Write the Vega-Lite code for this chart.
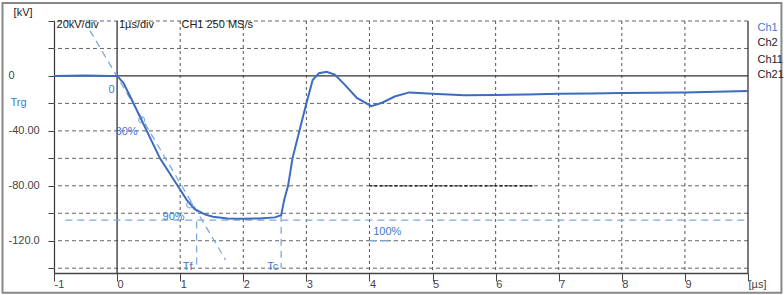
{
  "$schema": "https://vega.github.io/schema/vega-lite/v6.json",
  "width": 694,
  "height": 252,
  "autosize": {"type": "none"},
  "padding": {"left": 54, "top": 21, "right": 36, "bottom": 22},
  "background": "white",
  "config": {
    "view": {"stroke": null},
    "text": {"font": "Liberation Sans"},
    "axis": {"labelFont": "Liberation Sans"}
  },
  "datasets": {
    "wave": [
      {"x": -1, "y": 0}, {"x": -0.5, "y": 0.3}, {"x": -0.1, "y": 0}, {"x": 0, "y": 0},
      {"x": 0.1, "y": -5}, {"x": 0.25, "y": -19}, {"x": 0.47, "y": -40}, {"x": 0.68, "y": -60},
      {"x": 0.96, "y": -80}, {"x": 1.1, "y": -90}, {"x": 1.23, "y": -97}, {"x": 1.4, "y": -101},
      {"x": 1.52, "y": -102.5}, {"x": 1.75, "y": -103.8}, {"x": 2.0, "y": -104}, {"x": 2.25, "y": -103.8},
      {"x": 2.5, "y": -103}, {"x": 2.6, "y": -101.5}, {"x": 2.65, "y": -90}, {"x": 2.71, "y": -80},
      {"x": 2.78, "y": -60}, {"x": 2.89, "y": -40}, {"x": 3.0, "y": -20}, {"x": 3.1, "y": -3},
      {"x": 3.2, "y": 2}, {"x": 3.32, "y": 3}, {"x": 3.45, "y": 1}, {"x": 3.6, "y": -6},
      {"x": 3.8, "y": -16}, {"x": 4.03, "y": -22}, {"x": 4.2, "y": -19.5}, {"x": 4.4, "y": -15},
      {"x": 4.63, "y": -12}, {"x": 5.0, "y": -13}, {"x": 5.5, "y": -14}, {"x": 6.0, "y": -13.8},
      {"x": 6.5, "y": -13.5}, {"x": 7.0, "y": -13}, {"x": 7.5, "y": -12.8}, {"x": 8.0, "y": -12.5},
      {"x": 8.5, "y": -12.2}, {"x": 9.0, "y": -12}, {"x": 9.5, "y": -11.5}, {"x": 10, "y": -11}
    ],
    "frame": [{"x": -1.816, "x2": 10.53, "y": 53.1, "y2": -157.8}],
    "hgrid": [
      {"y": 40}, {"y": 20}, {"y": -20}, {"y": -40}, {"y": -60},
      {"y": -80}, {"y": -100}, {"y": -120}, {"y": -140}
    ],
    "vgrid": [
      {"x": 1}, {"x": 2}, {"x": 3}, {"x": 4}, {"x": 5}, {"x": 6}, {"x": 7}, {"x": 8}, {"x": 9}
    ],
    "solid": [
      {"id": "v0", "x": 0, "x2": 0, "y": 40, "y2": -143.5},
      {"id": "v10", "x": 10, "x2": 10, "y": 40, "y2": -143.5},
      {"id": "h0", "x": -1, "x2": 10, "y": 0, "y2": 0}
    ],
    "blackdash": [{"x": 4, "x2": 6.6, "y": -80, "y2": -80}],
    "guides": [
      {"id": "diag", "x": -0.43, "x2": 1.72, "y": 33, "y2": -134},
      {"id": "ref100", "x": -0.82, "x2": 10, "y": -105, "y2": -105},
      {"id": "tf", "x": 1.26, "x2": 1.26, "y": -106, "y2": -140},
      {"id": "tc", "x": 2.6, "x2": 2.6, "y": -101, "y2": -140},
      {"id": "br", "x": 4.0, "x2": 4.4, "y": -120, "y2": -120}
    ],
    "marks": [{"x": 0.39, "y": -32}, {"x": 1.15, "y": -94}],
    "bluetext": [
      {"x": -0.136, "y": -10.2, "label": "0"},
      {"x": -0.025, "y": -40.7, "label": "30%"},
      {"x": 0.72, "y": -102.5, "label": "90%"},
      {"x": 1.04, "y": -139, "label": "Tf"},
      {"x": 2.38, "y": -139, "label": "Tc"},
      {"x": 4.06, "y": -113.5, "label": "100%"},
      {"x": -1.69, "y": -19.6, "label": "Trg"},
      {"x": 10.15, "y": 34.9, "label": "Ch1"}
    ],
    "blacktext": [
      {"x": -0.96, "y": 37.1, "label": "20kV/div"},
      {"x": 0.03, "y": 37.1, "label": "1µs/div"},
      {"x": 1.02, "y": 37.1, "label": "CH1 250 MS/s"},
      {"x": -1.64, "y": 45.8, "label": "[kV]"},
      {"x": 10.15, "y": 24, "label": "Ch2"},
      {"x": 10.15, "y": 11.6, "label": "Ch11"},
      {"x": 10.15, "y": 0.7, "label": "Ch21"}
    ]
  },
  "layer": [
    {
      "data": {"name": "hgrid"},
      "mark": {"type": "rule", "color": "#666", "strokeWidth": 1, "strokeDash": [4, 3]},
      "encoding": {
        "y": {
          "field": "y", "type": "quantitative",
          "scale": {"domain": [-143.5, 40], "nice": false, "zero": false},
          "axis": {
            "title": null,
            "values": [-140, -120, -100, -80, -60, -40, -20, 0, 20, 40],
            "tickCount": 30,
            "labelExpr": "datum.value == 0 ? '0' : datum.value == -40 ? '-40.00' : datum.value == -80 ? '-80.00' : datum.value == -120 ? '-120.0' : ''",
            "labelOverlap": false,
            "labelAlign": "left", "labelPadding": 40, "labelBaseline": "middle",
            "labelFontSize": 11, "labelColor": "#444",
            "tickSize": 6, "tickColor": "#444",
            "domainColor": "#333", "domainWidth": 1.2,
            "grid": false
          }
        }
      }
    },
    {
      "data": {"name": "vgrid"},
      "mark": {"type": "rule", "color": "#555", "strokeWidth": 1, "strokeDash": [3, 3]},
      "encoding": {
        "x": {
          "field": "x", "type": "quantitative",
          "scale": {"domain": [-1, 10], "nice": false, "zero": false},
          "axis": {
            "title": null,
            "values": [-1, 0, 1, 2, 3, 4, 5, 6, 7, 8, 9, 10],
            "tickCount": 30,
            "labelExpr": "datum.value == 10 ? '[µs]' : datum.value",
            "labelOverlap": false,
            "labelAlign": "left", "labelDx": 3, "labelBaseline": "top", "labelPadding": -3,
            "labelFontSize": 11, "labelColor": "#444",
            "tickSize": 8, "tickColor": "#444",
            "domainColor": "#444", "domainWidth": 1.5,
            "grid": false
          }
        }
      }
    },
    {
      "data": {"name": "frame"},
      "mark": {"type": "rect", "fill": null, "fillOpacity": 0, "stroke": "#888", "strokeWidth": 2, "clip": false},
      "encoding": {
        "x": {"field": "x", "type": "quantitative"},
        "x2": {"field": "x2"},
        "y": {"field": "y", "type": "quantitative"},
        "y2": {"field": "y2"}
      }
    },
    {
      "data": {"name": "solid"},
      "mark": {"type": "rule", "color": "#333", "strokeWidth": 1.3},
      "encoding": {
        "x": {"field": "x", "type": "quantitative"},
        "x2": {"field": "x2"},
        "y": {"field": "y", "type": "quantitative"},
        "y2": {"field": "y2"}
      }
    },
    {
      "data": {"name": "blackdash"},
      "mark": {"type": "rule", "color": "#000", "strokeWidth": 1.2, "strokeDash": [3, 2]},
      "encoding": {
        "x": {"field": "x", "type": "quantitative"},
        "x2": {"field": "x2"},
        "y": {"field": "y", "type": "quantitative"},
        "y2": {"field": "y2"}
      }
    },
    {
      "data": {"name": "guides"},
      "mark": {"type": "rule", "color": "#7fa8dc", "strokeWidth": 1.3, "strokeDash": [7, 5]},
      "encoding": {
        "x": {"field": "x", "type": "quantitative"},
        "x2": {"field": "x2"},
        "y": {"field": "y", "type": "quantitative"},
        "y2": {"field": "y2"}
      }
    },
    {
      "data": {"name": "wave"},
      "mark": {"type": "line", "color": "#3b6cc0", "strokeWidth": 2},
      "encoding": {
        "x": {"field": "x", "type": "quantitative"},
        "y": {"field": "y", "type": "quantitative"}
      }
    },
    {
      "data": {"name": "marks"},
      "mark": {"type": "point", "shape": "circle", "filled": false, "size": 35, "color": "#5a8fd6", "strokeWidth": 1.2},
      "encoding": {
        "x": {"field": "x", "type": "quantitative"},
        "y": {"field": "y", "type": "quantitative"}
      }
    },
    {
      "data": {"name": "bluetext"},
      "mark": {"type": "text", "align": "left", "baseline": "middle", "fontSize": 11, "color": "#3c78d0", "clip": false},
      "encoding": {
        "x": {"field": "x", "type": "quantitative"},
        "y": {"field": "y", "type": "quantitative"},
        "text": {"field": "label"}
      }
    },
    {
      "data": {"name": "blacktext"},
      "mark": {"type": "text", "align": "left", "baseline": "middle", "fontSize": 11, "color": "#222", "clip": false},
      "encoding": {
        "x": {"field": "x", "type": "quantitative"},
        "y": {"field": "y", "type": "quantitative"},
        "text": {"field": "label"}
      }
    }
  ]
}
